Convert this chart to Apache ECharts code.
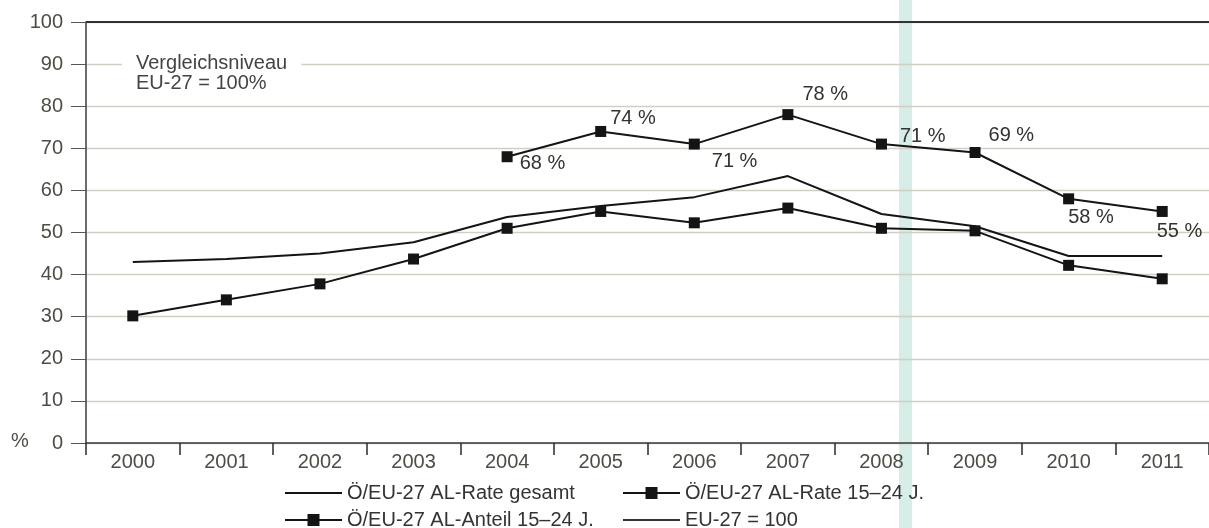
<!DOCTYPE html>
<html>
<head>
<meta charset="utf-8">
<script src="https://cdn.jsdelivr.net/npm/echarts@6/dist/echarts.min.js"></script>
<style>
  html, body { margin: 0; padding: 0; background: #fff; }
  #chart { width: 1209px; height: 528px; }
</style>
</head>
<body>
<div id="chart"></div>
<script>
// Jahre (Kategorien der x-Achse)
const years = ['2000','2001','2002','2003','2004','2005','2006','2007','2008','2009','2010','2011'];

// Verhältnis Österreich / EU-27 in Prozent
const rateGesamt = [43, 43.7, 45, 47.7, 53.7, 56.3, 58.4, 63.4, 54.4, 51.5, 44.4, 44.4];
const rate1524   = [30.2, 34, 37.8, 43.7, 51, 55, 52.3, 55.8, 51, 50.4, 42.2, 39];
const anteil1524 = [null, null, null, null, 68, 74, 71, 78, 71, 69, 58, 55];
const eu27       = [100, 100, 100, 100, 100, 100, 100, 100, 100, 100, 100, 100];

const yTicks = [0, 10, 20, 30, 40, 50, 60, 70, 80, 90, 100];

const names = {
  gesamt: 'Ö/EU-27 AL-Rate gesamt',
  rate: 'Ö/EU-27 AL-Rate 15–24 J.',
  anteil: 'Ö/EU-27 AL-Anteil 15–24 J.',
  eu: 'EU-27 = 100'
};

// Versatz der Prozentangaben neben den Punkten (Pixel)
const labelOffsets = {
  4: [4, 7], 5: [1, -13], 6: [9, 17], 7: [6, -20],
  8: [10, -8], 9: [5, -17], 10: [-9, 19], 11: [-14, 20]
};

const anteilData = anteil1524.map((v, i) => {
  if (v == null) return null;
  return {
    value: v,
    label: {
      show: true,
      position: 'right',
      distance: 3,
      offset: labelOffsets[i] || [0, 0],
      formatter: v + ' %'
    }
  };
});

const ink = '#141414';
const font = '"Liberation Sans", Arial, Helvetica, sans-serif';
const fs = 20;

// Legende: zwei Spalten mit je zwei Einträgen
function legendItem(name, left, top, lineOnly) {
  const item = { name: name };
  if (lineOnly) item.itemStyle = { opacity: 0 };
  return {
    left: left, top: top, orient: 'horizontal',
    itemWidth: 57, itemHeight: 15, itemGap: 0,
    textStyle: { color: '#333', fontFamily: font, fontSize: fs },
    data: [item]
  };
}

const chart = echarts.init(document.getElementById('chart'), null, { renderer: 'canvas' });

chart.setOption({
  animation: false,
  backgroundColor: '#ffffff',
  grid: { left: 86, right: -11, top: 22, bottom: 85, containLabel: false },
  xAxis: {
    type: 'category',
    data: years,
    boundaryGap: true,
    axisLine: { lineStyle: { color: '#3a3a3a', width: 1.5 } },
    axisTick: { show: true, length: 12, lineStyle: { color: '#2a2a2a', width: 1.5 } },
    axisLabel: { color: '#4d4d45', fontFamily: font, fontSize: fs, margin: 9 },
    splitLine: { show: false }
  },
  yAxis: {
    type: 'value',
    min: 0, max: 100, interval: 10,
    axisLine: { show: true, lineStyle: { color: '#3a3a3a', width: 1.5 } },
    axisTick: { show: true, length: 15, lineStyle: { color: '#555', width: 1 } },
    axisLabel: {
      color: '#4d4d45', fontFamily: font, fontSize: fs, margin: 23,
      formatter: v => yTicks.includes(v) ? String(v) : ''
    },
    splitLine: { show: true, lineStyle: { color: '#cfcfc4', width: 1.3 } }
  },
  legend: [
    legendItem(names.gesamt, 279, 478, true),
    legendItem(names.anteil, 279, 505, false),
    legendItem(names.rate, 617, 478, false),
    legendItem(names.eu, 617, 505, true)
  ],
  graphic: [
    {
      // heller Streifen quer über das Blatt
      type: 'rect', z: -1, silent: true,
      shape: { x: 899, y: 0, width: 13, height: 528 },
      style: { fill: '#cfeae4', opacity: 0.85 }
    },
    {
      type: 'text', left: 122, top: 51, z: 10,
      style: {
        text: 'Vergleichsniveau\nEU-27 = 100%',
        fill: '#444', font: fs + 'px ' + font,
        align: 'center', lineHeight: 20,
        backgroundColor: '#fff', padding: [2, 14, 2, 14]
      }
    },
    {
      type: 'text', left: 11, top: 431,
      style: { text: '%', fill: '#4d4d45', font: fs + 'px ' + font }
    }
  ],
  series: [
    {
      name: names.gesamt, type: 'line', data: rateGesamt,
      symbol: 'none', lineStyle: { color: ink, width: 2 },
      itemStyle: { color: ink }
    },
    {
      name: names.rate, type: 'line', data: rate1524,
      symbol: 'rect', symbolSize: 11,
      lineStyle: { color: ink, width: 2 },
      itemStyle: { color: ink }
    },
    {
      name: names.anteil, type: 'line', data: anteilData,
      symbol: 'rect', symbolSize: 11,
      lineStyle: { color: ink, width: 2 },
      itemStyle: { color: ink },
      label: { color: '#333', fontFamily: font, fontSize: fs }
    },
    {
      name: names.eu, type: 'line', data: eu27,
      symbol: 'none', lineStyle: { color: '#333', width: 2 },
      itemStyle: { color: '#333' },
      // Vergleichslinie über die ganze Breite des Diagramms
      markLine: {
        silent: true, symbol: 'none', label: { show: false },
        lineStyle: { color: '#333', width: 2, type: 'solid' },
        data: [{ yAxis: 100 }]
      }
    }
  ]
});
</script>
</body>
</html>
